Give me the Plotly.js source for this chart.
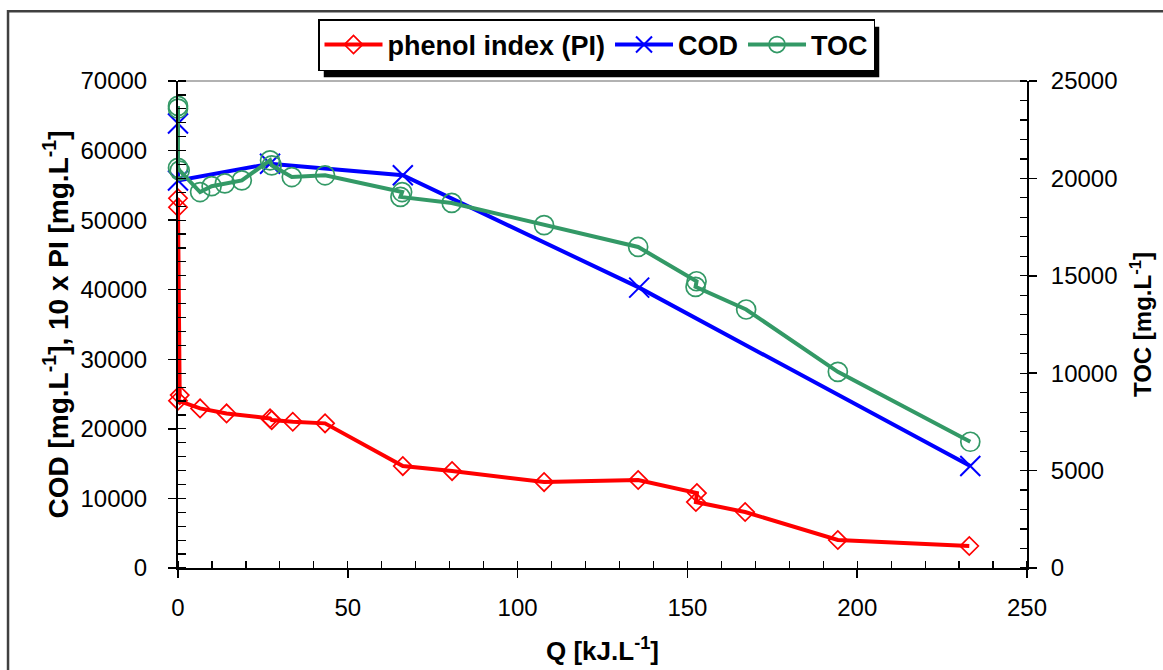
<!DOCTYPE html>
<html>
<head>
<meta charset="utf-8">
<script src="https://cdn.plot.ly/plotly-3.0.1.min.js"></script>
<style>
html,body{margin:0;padding:0;background:#fff;}
#chart{width:1163px;height:670px;}
</style>
</head>
<body>
<div id="chart"></div>
<script>
// ---- data ----
const qPI  = [0, 0, 0.5, 0, 6.5, 14.3, 27.1, 27.6, 33.8, 43.3, 66.2, 80.7, 107.8, 135.5, 152.8, 152.5, 167.0, 194.3, 233.0];
const pi10 = [53150, 51850, 24850, 24050, 22940, 22220, 21500, 21260, 21020, 20790, 14650, 13930, 12350, 12640, 10770, 9480, 8040, 4020, 3160];

const qCOD = [0, 0, 27.1, 66.2, 135.8, 233.3];
const cod  = [63900, 55700, 58100, 56450, 40300, 14650];

const qTOC = [0, 0, 0, 0.5, 6.5, 9.9, 13.8, 18.8, 27.1, 27.6, 33.5, 43.3, 66.0, 65.5, 80.6, 107.8, 135.5, 152.7, 152.4, 167.3, 194.3, 233.3];
const toc  = [23720, 23580, 20540, 20400, 19300, 19600, 19740, 19900, 20930, 20670, 20070, 20160, 19300, 19050, 18740, 17600, 16480, 14720, 14430, 13270, 10070, 6480];

const seriesNames = ['phenol index (PI)', 'COD', 'TOC'];
const xTitle  = 'Q [kJ.L<sup>-1</sup>]';
const yTitle  = 'COD [mg.L<sup>-1</sup>], 10 x PI [mg.L<sup>-1</sup>]';
const y2Title = 'TOC [mg.L<sup>-1</sup>]';

const FONT = 'Liberation Sans, Arial, sans-serif';
const RED = '#FF0000', BLUE = '#0000FF', GREEN = '#339966';

const traces = [
  {x: qPI, y: pi10, name: '<b>' + seriesNames[0] + '</b>', type: 'scatter', mode: 'lines+markers',
   cliponaxis: false,
   line: {color: RED, width: 4},
   marker: {symbol: 'diamond-open', size: 14, color: RED, line: {color: RED, width: 1.7}}},
  {x: qCOD, y: cod, name: '<b>' + seriesNames[1] + '</b>', type: 'scatter', mode: 'lines+markers',
   cliponaxis: false,
   line: {color: BLUE, width: 4},
   marker: {symbol: 'x-thin-open', size: 20, color: BLUE, line: {color: BLUE, width: 2}}},
  {x: qTOC, y: toc, name: '<b>' + seriesNames[2] + '</b>', type: 'scatter', mode: 'lines+markers',
   yaxis: 'y2', cliponaxis: false,
   line: {color: GREEN, width: 4},
   marker: {symbol: 'circle-open', size: 19, color: GREEN, line: {color: GREEN, width: 1.7}}}
];

const tickFont = {family: FONT, size: 24, color: '#000'};

const layout = {
  width: 1163, height: 670,
  margin: {l: 178, r: 136, t: 81, b: 102, pad: 0},
  paper_bgcolor: '#fff', plot_bgcolor: '#fff',
  font: {family: FONT, color: '#000'},
  showlegend: true,
  legend: {
    orientation: 'h', x: 0.1649, xanchor: 'left', y: 1.1273, yanchor: 'top',
    bgcolor: '#fff', bordercolor: '#000', borderwidth: 1.5,
    font: {family: FONT, size: 27, color: '#000'},
    itemwidth: 58, tracegroupgap: 0
  },
  xaxis: {
    range: [0, 250], dtick: 50, tick0: 0,
    showline: true, linecolor: '#000', linewidth: 2,
    ticks: 'outside', ticklen: 8, tickwidth: 1.5, tickcolor: '#000',
    minor: {dtick: 10, ticks: 'inside', ticklen: 7, tickwidth: 1.2, tickcolor: '#000'},
    showgrid: false, zeroline: false,
    tickfont: tickFont, ticklabelstandoff: 9,
    title: {text: '<b>' + xTitle + '</b>', font: {family: FONT, size: 26, color: '#000'}, standoff: 22},
    automargin: false
  },
  xaxis2: {
    overlaying: 'x', anchor: 'y', side: 'bottom', range: [0, 250], dtick: 50, tick0: 0,
    showline: false, showgrid: false, zeroline: false, showticklabels: false,
    ticks: 'inside', ticklen: 8, tickwidth: 1.5, tickcolor: '#000'
  },
  yaxis: {
    range: [0, 70000], dtick: 10000, tick0: 0,
    showline: true, linecolor: '#000', linewidth: 2,
    ticks: 'outside', ticklen: 8, tickwidth: 1.5, tickcolor: '#000',
    minor: {dtick: 2000, ticks: 'inside', ticklen: 8, tickwidth: 1.2, tickcolor: '#000'},
    showgrid: false, zeroline: false,
    tickfont: tickFont, ticklabelstandoff: 16, tickformat: 'd',
    title: {text: '<b>' + yTitle + '</b>', font: {family: FONT, size: 28, color: '#000'}, standoff: 4},
    automargin: false
  },
  yaxis3: {
    overlaying: 'y', anchor: 'x', side: 'left', range: [0, 70000], dtick: 10000, tick0: 0,
    showline: false, showgrid: false, zeroline: false, showticklabels: false,
    ticks: 'inside', ticklen: 8, tickwidth: 1.5, tickcolor: '#000'
  },
  yaxis2: {
    overlaying: 'y', side: 'right', anchor: 'x', range: [0, 25000], dtick: 5000, tick0: 0,
    showline: true, linecolor: '#000', linewidth: 2,
    ticks: 'outside', ticklen: 8, tickwidth: 1.5, tickcolor: '#000',
    minor: {dtick: 1000, ticks: 'inside', ticklen: 7, tickwidth: 1.2, tickcolor: '#000'},
    showgrid: false, zeroline: false,
    tickfont: tickFont, ticklabelstandoff: 9, tickformat: 'd',
    title: {text: '<b>' + y2Title + '</b>', font: {family: FONT, size: 24, color: '#000'}, standoff: 18},
    automargin: false
  },
  yaxis4: {
    overlaying: 'y', side: 'right', anchor: 'x', range: [0, 25000], dtick: 5000, tick0: 0,
    showline: false, showgrid: false, zeroline: false, showticklabels: false,
    ticks: 'inside', ticklen: 8, tickwidth: 1.5, tickcolor: '#000'
  },
  shapes: [
    // plot-area top border
    {type: 'line', xref: 'paper', yref: 'paper', x0: 0, x1: 1, y0: 1, y1: 1,
     line: {color: '#999', width: 1.5}, layer: 'below'},
    // outer chart frame
    {type: 'rect', xref: 'paper', yref: 'paper', x0: -0.2002, x1: 1.25, y0: -0.3, y1: 1.143,
     line: {color: '#404040', width: 2.5}, fillcolor: 'rgba(0,0,0,0)', layer: 'below'}
  ]
};

Plotly.newPlot('chart', traces, layout, {displayModeBar: false, staticPlot: true}).then(function (gd) {
  // drop shadow behind the legend box, offset a few px right/down, sized from the drawn legend
  const bg = gd.querySelector('.legend .bg');
  if (!bg) return;
  const lb = bg.getBoundingClientRect();
  const pb = gd.querySelector('.nsewdrag') ? gd.querySelector('.nsewdrag').getBoundingClientRect() : null;
  const fl = gd._fullLayout;
  const L = fl._size.l, T = fl._size.t, W = fl._size.w, H = fl._size.h;
  const gb = gd.getBoundingClientRect();
  const px0 = lb.left - gb.left + 5, px1 = lb.right - gb.left + 5;
  const py0 = lb.top - gb.top + 7, py1 = lb.bottom - gb.top + 7;
  const shadow = {type: 'rect', xref: 'paper', yref: 'paper',
    x0: (px0 - L) / W, x1: (px1 - L) / W,
    y0: 1 - (py1 - T) / H, y1: 1 - (py0 - T) / H,
    line: {width: 0}, fillcolor: '#000', layer: 'above'};
  Plotly.relayout(gd, {shapes: fl.shapes.map(s => s._input).concat([shadow])});
});
</script>
</body>
</html>
